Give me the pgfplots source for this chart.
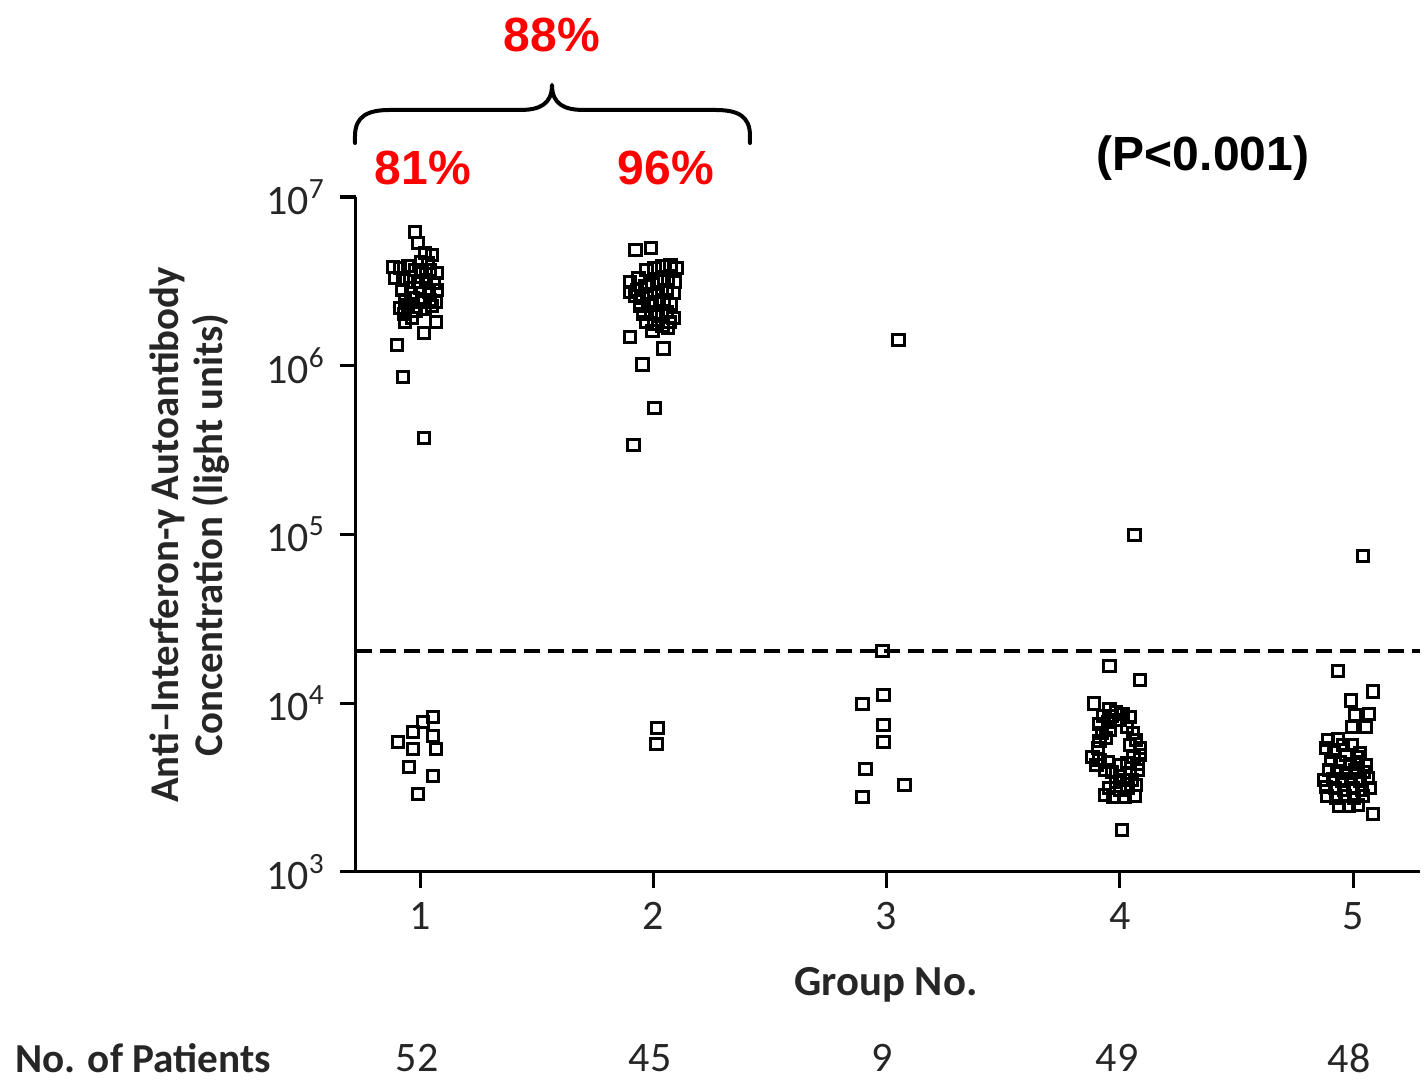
\documentclass[border=0pt]{standalone}
\usepackage{fontspec}
\setmainfont{Carlito}
\newfontfamily\arialfont{Liberation Sans}
\usepackage{pgfplots}
\pgfplotsset{compat=1.18}
\begin{document}
\begin{tikzpicture}
\begin{axis}[
  scale only axis, width=266pt, height=168.75pt,
  ymode=log, ymin=1e3, ymax=1e7,
  xmin=0.7256, xmax=5.287,
  axis x line=bottom, axis y line=left,
  axis line style={line width=0.75pt, -},
  tick align=outside, major tick length=4pt,
  tick style={line width=0.75pt, black},
  minor tick num=0, yminorticks=false,
  xtick={1,2,3,4,5},
  xticklabels={1,2,3,4,5},
  ytick={1e3,1e4,1e5,1e6,1e7},
  yticklabels={10\textsuperscript{3},10\textsuperscript{4},10\textsuperscript{5},10\textsuperscript{6},10\textsuperscript{7}},
  ticklabel style={font=\fontsize{10.5}{12}\selectfont, text=black!85},
  clip=false,
  pts/.style={only marks, mark=square, mark size=1.45pt, draw=black, mark options={line width=0.75pt, draw=black, fill=none}},
]
\addplot[line width=0.8pt, dash pattern=on 4pt off 2pt, black] coordinates {(0.7256,2.04e4) (5.287,2.04e4)};
% Group 1
\addplot[pts] coordinates {
(0.979,6.21e6) (0.991,5.34e6) (0.936,1.82e6) (1.069,1.82e6) (1.017,1.56e6) (0.901,1.33e6) (0.927,8.58e5) (1.017,3.73e5)
(1.021,4.66e6) (1.051,4.53e6) (1.004,4.12e6) (1.034,4.06e6) (0.884,3.85e6) (0.914,3.80e6) (0.949,3.90e6) (0.979,3.69e6)
(1.009,3.59e6) (1.043,3.69e6) (1.073,3.55e6) (0.893,3.31e6) (0.927,3.22e6) (0.957,3.36e6) (0.991,3.13e6) (1.026,3.22e6)
(1.060,3.09e6) (0.923,2.81e6) (0.961,2.70e6) (1.000,2.89e6) (1.039,2.74e6) (1.073,2.81e6) (0.936,2.45e6) (0.970,2.52e6)
(1.009,2.39e6) (1.043,2.45e6) (1.069,2.39e6) (0.914,2.20e6) (0.949,2.29e6) (0.983,2.11e6) (1.021,2.17e6) (0.931,2.03e6)
(1.051,2.26e6) (0.966,1.92e6)
(1.056,8.29e3) (1.013,7.74e3) (0.970,6.76e3) (0.906,5.89e3) (1.056,6.40e3) (0.970,5.36e3) (1.069,5.36e3) (0.953,4.19e3)
(1.056,3.71e3) (0.991,2.90e3)
};
% Group 2
\addplot[pts] coordinates {
(1.923,4.85e6) (1.991,4.99e6) (1.901,1.48e6) (2.043,1.27e6) (1.953,1.02e6) (2.004,5.62e5) (1.914,3.39e5)
(2.017,7.13e3) (2.013,5.74e3)
(1.901,3.13e6) (1.936,3.31e6) (1.970,3.69e6) (2.004,3.80e6) (2.039,3.90e6) (2.073,3.95e6) (2.099,3.80e6)
(1.901,2.74e6) (1.931,2.81e6) (1.966,2.97e6) (1.996,3.05e6) (2.030,3.18e6) (2.064,3.27e6) (2.094,3.13e6)
(1.923,2.59e6) (1.953,2.52e6) (1.987,2.66e6) (2.021,2.74e6) (2.056,2.81e6) (2.086,2.70e6)
(1.944,2.26e6) (1.979,2.32e6) (2.009,2.39e6) (2.043,2.45e6) (2.073,2.32e6)
(1.957,2.03e6) (1.991,2.08e6) (2.021,1.97e6) (2.056,2.08e6) (2.086,1.92e6)
(1.970,1.82e6) (2.004,1.77e6) (2.039,1.72e6) (2.069,1.82e6) (1.996,1.61e6) (2.064,1.67e6)
};
% Group 3
\addplot[pts] coordinates {
(3.051,1.42e6) (2.983,2.04e4) (2.987,1.12e4) (2.897,9.90e3) (2.987,7.43e3) (2.987,5.89e3) (2.910,4.07e3) (3.077,3.28e3) (2.897,2.78e3)
};
% Group 4
\addplot[pts] coordinates {
(4.064,9.93e4) (3.957,1.66e4) (4.086,1.37e4) (3.889,1.00e4) (4.009,1.77e3)
(3.957,9.25e3) (3.983,8.87e3) (4.013,8.63e3) (4.043,8.29e3) (3.931,8.40e3) (3.914,7.53e3) (3.949,7.74e3) (4.000,7.96e3)
(4.030,7.23e3) (3.923,6.66e3) (3.957,6.94e3) (4.056,6.66e3) (3.914,5.97e3) (3.940,6.22e3) (4.069,6.06e3) (3.906,5.43e3)
(4.086,5.43e3) (4.043,5.66e3) (3.884,4.80e3) (3.914,4.61e3) (3.949,4.49e3) (4.060,4.80e3) (4.086,4.94e3) (4.000,4.31e3)
(4.034,4.43e3) (4.077,4.37e3) (3.936,4.02e3) (3.966,3.91e3) (4.000,3.71e3) (4.043,3.86e3) (3.983,3.41e3) (4.017,3.51e3)
(3.953,3.15e3) (4.000,3.06e3) (4.034,3.15e3) (4.069,3.28e3) (3.936,2.86e3) (3.974,2.78e3) (4.064,2.82e3) (3.901,4.31e3)
(4.021,2.78e3) (4.051,3.51e3) (3.966,8.40e3) (4.077,4.02e3)
};
% Group 5
\addplot[pts] coordinates {
(5.043,7.46e4) (4.936,1.55e4) (5.086,1.17e4) (4.991,1.04e4) (5.009,8.51e3) (5.069,8.63e3) (4.996,7.23e3) (5.056,7.23e3) (5.086,2.21e3)
(4.893,6.06e3) (4.936,6.14e3) (4.884,5.43e3) (4.919,5.14e3) (4.970,4.94e3) (5.030,5.07e3) (4.906,4.61e3) (4.944,4.49e3)
(4.987,4.37e3) (5.021,4.49e3) (4.897,4.02e3) (4.931,3.97e3) (4.970,3.86e3) (5.009,4.02e3) (5.047,3.91e3) (4.914,3.56e3)
(4.953,3.46e3) (4.991,3.56e3) (5.030,3.46e3) (5.064,3.61e3) (4.884,3.19e3) (4.923,3.15e3) (4.961,3.06e3) (5.000,3.15e3)
(5.039,3.06e3) (5.073,3.15e3) (4.889,2.82e3) (4.927,2.75e3) (4.966,2.82e3) (5.004,2.75e3) (5.043,2.82e3) (4.940,2.46e3)
(4.983,2.46e3) (5.021,2.49e3) (4.957,5.66e3) (4.996,5.66e3) (4.876,3.51e3) (5.017,4.80e3) (5.056,4.31e3)
};
\end{axis}
% annotations (axis box lower-left at (0,0); 1px = 0.25pt)
\node[font=\arialfont\bfseries\fontsize{12}{14}\selectfont, text=red] at (49pt,209.25pt) {88\%};
\node[font=\arialfont\bfseries\fontsize{12}{14}\selectfont, text=red] at (16.75pt,176pt) {81\%};
\node[font=\arialfont\bfseries\fontsize{12}{14}\selectfont, text=red] at (77.5pt,176pt) {96\%};
\node[font=\arialfont\bfseries\fontsize{12}{14}\selectfont] at (211.75pt,178.5pt) {(P<0.001)};
\draw[line width=1pt, line cap=round, line join=round]
  (-0.25pt,182.25pt) -- (-0.25pt,184pt) .. controls (-0.25pt,189pt) and (3pt,190.5pt) .. (8.5pt,190.5pt)
  -- (41pt,190.5pt) .. controls (46pt,190.5pt) and (49pt,192pt) .. (49pt,196.75pt)
  .. controls (49pt,192pt) and (52pt,190.5pt) .. (57pt,190.5pt)
  -- (89.75pt,190.5pt) .. controls (95.5pt,190.5pt) and (98.5pt,189pt) .. (98.5pt,184pt) -- (98.5pt,182.25pt);
\node[rotate=90, align=center, font=\bfseries\fontsize{10.2}{11}\selectfont, text=black!85] at (-41.5pt,84.25pt)
  {Anti–Interferon-γ Autoantibody\\Concentration (light units)};
\node[font=\bfseries\fontsize{10.7}{12}\selectfont, text=black!85] at (132.5pt,-28.25pt) {Group No.};
\node[font=\bfseries\fontsize{10.3}{12}\selectfont, text=black!85] at (-53.25pt,-46.5pt) {No. of Patients};
\foreach \xx/\nn in {15.25/52, 73.5/45, 131.5/9, 190.25/49, 248.25/48}
  \node[font=\fontsize{10.5}{12}\selectfont, text=black!85] at (\xx pt,-46.5pt) {\nn};
\pgfresetboundingbox
\useasboundingbox (-89pt,-54pt) rectangle (267.5pt,218pt);
\end{tikzpicture}
\end{document}
